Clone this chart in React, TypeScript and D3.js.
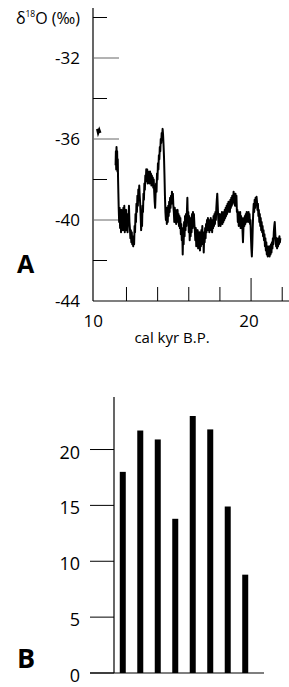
import React from "react";
import * as d3 from "d3";

// Panel A: δ18O record (cal kyr B.P., ‰)
const earlyRecord: [number, number][] = [
  [10.12, -35.5], [10.18, -35.7], [10.25, -35.55], [10.32, -35.7],
];
const isotopeRecord: [number, number][] = [
  [11.30,-37.3],[11.32,-36.6],[11.34,-37.5],[11.36,-36.4],[11.38,-37.1],[11.40,-36.6],[11.42,-37.6],[11.44,-37.0],[11.46,-38.0],[11.48,-38.7],[11.50,-39.4],
  [11.53,-40.1],[11.56,-39.4],[11.59,-40.4],[11.62,-39.6],[11.65,-40.6],[11.68,-39.5],[11.71,-40.3],[11.74,-39.7],[11.77,-40.5],[11.80,-39.4],[11.83,-40.2],[11.86,-39.3],[11.89,-40.6],[11.92,-39.6],[11.95,-40.4],[11.98,-39.5],[12.01,-40.5],[12.04,-39.7],[12.07,-40.6],[12.10,-39.8],[12.13,-40.2],[12.16,-39.3],[12.19,-40.1],
  [12.22,-40.4],[12.25,-40.9],[12.28,-40.5],[12.31,-41.1],[12.34,-40.6],[12.37,-41.2],[12.40,-40.8],[12.43,-41.3],[12.46,-40.9],[12.49,-41.2],[12.52,-40.3],
  [12.55,-40.6],[12.58,-39.7],[12.61,-40.1],[12.64,-39.2],[12.67,-39.6],[12.70,-38.8],[12.73,-39.3],[12.76,-38.5],[12.79,-38.9],[12.82,-38.3],[12.85,-38.8],[12.88,-39.2],
  [12.91,-39.8],[12.94,-40.5],[12.97,-39.9],[13.00,-40.3],
  [13.03,-39.3],[13.06,-39.6],[13.09,-38.7],[13.12,-39.0],[13.15,-38.2],[13.18,-38.5],[13.21,-37.8],[13.24,-38.1],[13.27,-37.5],
  [13.30,-37.9],[13.33,-37.5],[13.36,-38.2],[13.39,-37.6],[13.42,-38.1],[13.45,-37.7],[13.48,-38.2],[13.51,-37.6],[13.54,-38.0],[13.57,-37.7],[13.60,-38.3],[13.63,-37.8],[13.66,-38.2],[13.69,-37.9],[13.72,-38.4],[13.75,-38.0],[13.78,-38.6],
  [13.81,-39.1],[13.84,-39.4],[13.87,-38.7],
  [13.90,-38.2],[13.93,-38.6],[13.96,-37.7],[13.99,-38.0],[14.02,-37.2],[14.05,-37.5],[14.08,-36.8],[14.11,-37.0],[14.14,-36.4],[14.17,-36.6],[14.20,-36.0],[14.23,-36.2],[14.26,-35.7],[14.29,-35.9],[14.32,-35.5],[14.35,-35.8],[14.38,-36.3],[14.41,-36.9],[14.44,-37.8],[14.47,-38.8],[14.50,-39.6],[14.53,-40.0],
  [14.56,-39.4],[14.59,-40.2],[14.62,-39.5],[14.65,-40.1],[14.68,-39.3],[14.71,-39.8],[14.74,-39.1],[14.77,-39.6],[14.80,-38.9],[14.83,-39.4],[14.86,-38.8],[14.89,-39.2],[14.92,-38.6],[14.95,-39.0],[14.98,-38.7],[15.01,-39.3],
  [15.04,-39.6],[15.07,-40.1],[15.10,-39.4],[15.13,-39.9],[15.16,-39.5],[15.19,-40.2],[15.22,-39.6],[15.25,-40.0],[15.28,-39.5],[15.31,-40.1],[15.34,-39.7],[15.37,-40.3],[15.40,-39.8],
  [15.43,-40.4],[15.46,-39.9],[15.49,-40.7],[15.52,-40.2],[15.55,-41.0],[15.58,-40.4],[15.61,-41.7],[15.64,-40.6],[15.67,-41.2],[15.70,-40.1],[15.73,-40.8],[15.76,-39.8],[15.79,-40.5],[15.82,-39.7],[15.85,-40.3],[15.88,-39.6],[15.91,-38.9],[15.94,-40.0],
  [15.97,-39.6],[16.00,-40.6],[16.03,-39.8],[16.06,-41.0],[16.09,-40.2],[16.12,-40.8],[16.15,-39.9],[16.18,-40.6],[16.21,-39.7],[16.24,-40.4],[16.27,-39.6],[16.30,-40.3],[16.33,-39.7],[16.36,-40.2],
  [16.39,-40.5],[16.42,-41.0],[16.45,-40.4],[16.48,-41.3],[16.51,-40.6],[16.54,-41.1],[16.57,-40.5],[16.60,-41.4],[16.63,-40.7],[16.66,-41.2],[16.69,-40.6],[16.72,-41.5],[16.75,-40.8],[16.78,-41.3],[16.81,-40.5],[16.84,-41.0],[16.87,-40.3],[16.90,-41.2],[16.93,-40.6],[16.96,-41.6],[16.99,-40.8],[17.02,-41.1],[17.05,-40.4],[17.08,-40.9],[17.11,-40.2],[17.14,-40.6],
  [17.17,-40.0],[17.20,-40.5],[17.23,-39.9],[17.26,-40.4],[17.29,-40.0],[17.32,-40.6],[17.35,-40.1],[17.38,-40.5],[17.41,-39.9],[17.44,-40.4],[17.47,-40.0],[17.50,-40.6],[17.53,-40.1],[17.56,-40.4],[17.59,-39.8],[17.62,-40.3],[17.65,-39.7],[17.68,-40.2],[17.71,-39.6],[17.74,-40.0],[17.77,-39.4],[17.80,-39.0],[17.83,-38.7],[17.86,-39.3],
  [17.89,-39.9],[17.92,-40.3],[17.95,-39.7],[17.98,-40.2],[18.01,-39.8],[18.04,-40.3],[18.07,-39.7],[18.10,-40.1],[18.13,-39.6],[18.16,-40.2],[18.19,-39.8],[18.22,-40.1],[18.25,-39.6],[18.28,-40.0],[18.31,-39.5],[18.34,-39.9],[18.37,-39.4],[18.40,-39.8],[18.43,-39.3],[18.46,-39.7],[18.49,-39.2],[18.52,-39.6],[18.55,-39.1],[18.58,-39.5],[18.61,-39.2],[18.64,-39.6],[18.67,-39.0],[18.70,-39.4],[18.73,-38.9],[18.76,-39.3],[18.79,-38.8],[18.82,-39.2],
  [18.85,-39.0],[18.88,-38.6],[18.91,-39.1],[18.94,-38.8],[18.97,-39.3],[19.00,-38.7],[19.03,-39.2],[19.06,-38.8],[19.09,-39.6],
  [19.12,-39.5],[19.15,-40.1],[19.18,-39.6],[19.21,-40.3],[19.24,-39.7],[19.27,-40.2],[19.30,-39.6],[19.33,-40.4],[19.36,-39.8],[19.39,-40.3],[19.42,-39.9],[19.45,-40.5],[19.48,-41.1],[19.51,-40.4],[19.54,-39.9],[19.57,-40.3],[19.60,-39.8],[19.63,-40.2],[19.66,-39.7],[19.69,-40.1],[19.72,-39.6],[19.75,-40.0],[19.78,-39.7],[19.81,-40.1],[19.84,-39.6],[19.87,-40.0],[19.90,-39.7],[19.93,-40.2],[19.96,-40.0],[19.99,-40.8],[20.02,-41.4],[20.05,-41.8],[20.08,-41.2],[20.11,-40.3],[20.14,-39.6],
  [20.17,-39.2],[20.20,-39.6],[20.23,-39.0],[20.26,-39.4],[20.29,-38.9],[20.32,-39.2],[20.35,-38.85],[20.38,-39.1],[20.41,-39.5],[20.44,-39.2],[20.47,-39.8],[20.50,-39.5],[20.53,-40.1],[20.56,-39.7],[20.59,-40.3],[20.62,-39.9],[20.65,-40.5],[20.68,-40.1],[20.71,-40.6],[20.74,-40.3],[20.77,-40.8],[20.80,-40.5],[20.83,-41.0],[20.86,-40.7],[20.89,-41.3],[20.92,-40.9],[20.95,-41.5],[20.98,-41.1],[21.01,-41.7],[21.04,-41.3],[21.07,-41.8],[21.10,-41.4],[21.13,-41.7],[21.16,-41.3],[21.19,-41.8],[21.22,-41.4],[21.25,-41.7],[21.28,-41.2],[21.31,-41.6],[21.34,-41.1],[21.37,-41.4],[21.40,-40.9],[21.43,-41.2],[21.46,-40.6],[21.49,-40.3],[21.52,-40.1],[21.55,-40.6],[21.58,-41.0],[21.61,-41.3],[21.64,-40.9],[21.67,-41.4],[21.70,-41.0],[21.73,-41.3],[21.76,-40.9],[21.79,-41.2],[21.82,-40.8],[21.85,-41.1],[21.88,-40.9],
];
const aYTicks = [-30, -32, -34, -36, -38, -40, -42];
const aYLabels = [-32, -36, -40, -44];
const aXTicks = [12, 14, 16, 18, 20, 22];
const aXLabels = [10, 20];

// Panel B: bar counts
const bCategories = ["1", "2", "3", "4", "5", "6", "7", "8"];
const bValues = [18, 21.7, 20.9, 13.8, 23, 21.8, 14.9, 8.8];
const bYTicks = [0, 5, 10, 15, 20];

const FONT = "'Open Sans', Lato, sans-serif";

export default function App() {
  // Panel A scales
  const ax = d3.scaleLinear().domain([9.85, 22.5]).range([93, 290]);
  const ay = d3.scaleLinear().domain([-44, -30]).range([301, 17.5]);
  const line = d3
    .line<[number, number]>()
    .x((d) => ax(d[0]))
    .y((d) => ay(d[1]));

  // Panel B scales
  const bx = d3.scaleBand<string>().domain(bCategories).range([114, 254]).paddingInner(0.657).paddingOuter(0.33);
  const by = d3.scaleLinear().domain([0, 24.7]).range([673, 397]);

  return (
    <svg
      width={289}
      height={687}
      style={{ position: "absolute", left: 0, top: 0, background: "#fff" }}
      fontFamily={FONT}
    >
      {/* ---------- Panel A ---------- */}
      <text x={80} y={24} textAnchor="end" fontSize={16} fill="#000">
        δ<tspan fontSize={8.5} dy={-7}>18</tspan>
        <tspan dy={7}>O (‰)</tspan>
      </text>
      <line x1={93} x2={93} y1={8} y2={301} stroke="#000" strokeWidth={1.2} />
      <line x1={93} x2={289} y1={301} y2={301} stroke="#000" strokeWidth={1.2} />
      {aYTicks.map((t) => {
        const major = aYLabels.includes(t);
        return (
          <line
            key={"ayt" + t}
            x1={93}
            x2={major ? 119 : 107}
            y1={ay(t)}
            y2={ay(t)}
            stroke={major ? "#666" : "#000"}
            strokeWidth={1}
          />
        );
      })}
      {aYLabels.map((t) => (
        <text key={"ayl" + t} x={80} y={ay(t) + 6} textAnchor="end" fontSize={17} fill="#000">
          {t}
        </text>
      ))}
      {aXTicks.map((t) => (
        <line
          key={"axt" + t}
          x1={ax(t)}
          x2={ax(t)}
          y1={301}
          y2={t === 20 ? 278 : 287}
          stroke="#000"
          strokeWidth={1}
        />
      ))}
      {aXLabels.map((t) => (
        <text key={"axl" + t} x={ax(t) - 2} y={327} textAnchor="middle" fontSize={17} fill="#000">
          {t}
        </text>
      ))}
      <text x={172} y={343} textAnchor="middle" fontSize={15} fill="#000">
        cal kyr B.P.
      </text>
      <path d={line(earlyRecord) || ""} fill="none" stroke="#000" strokeWidth={2.4} />
      <path d={line(isotopeRecord) || ""} fill="none" stroke="#000" strokeWidth={2} strokeLinejoin="round" />
      <text x={17} y={273} fontSize={25} fontWeight="bold" fill="#000">
        A
      </text>

      {/* ---------- Panel B ---------- */}
      <line x1={114} x2={114} y1={397} y2={673} stroke="#000" strokeWidth={1.2} />
      <line x1={90} x2={264} y1={673} y2={673} stroke="#000" strokeWidth={1.2} />
      {bYTicks.map((t) => (
        <g key={"byt" + t}>
          <line x1={90} x2={114} y1={by(t)} y2={by(t)} stroke="#000" strokeWidth={1} />
          <text x={80} y={by(t) + 9} textAnchor="end" fontSize={18} fill="#000">
            {t}
          </text>
        </g>
      ))}
      {bValues.map((v, i) => (
        <rect
          key={"bar" + i}
          x={bx(bCategories[i])}
          width={bx.bandwidth()}
          y={by(v)}
          height={by(0) - by(v)}
          fill="#000"
        />
      ))}
      <text x={17} y={668} fontSize={27} fontWeight="bold" fill="#000">
        B
      </text>
    </svg>
  );
}
